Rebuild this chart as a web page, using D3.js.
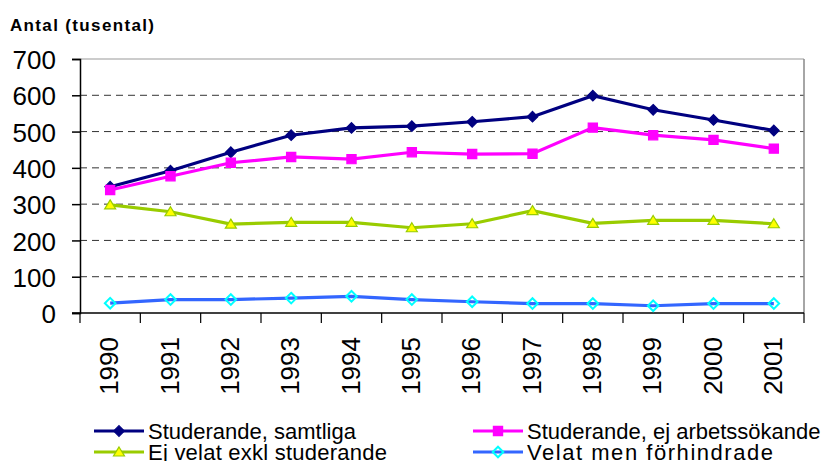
<!DOCTYPE html>
<html>
<head>
  <meta charset="UTF-8">
  <style>
    body { margin: 0; background: #fff; }
    svg { display: block; font-family: "Liberation Sans", Arial, sans-serif; }
  </style>
</head>
<body>
  <svg id="chart" width="829" height="461"></svg>
  <script src="https://d3js.org/d3.v7.min.js"></script>
  <script>
    // data (thousands)
    var years = ["1990","1991","1992","1993","1994","1995","1996","1997","1998","1999","2000","2001"];
    var studSamtliga = [348, 392, 443, 490, 510, 515, 527, 541, 599, 560, 532, 503];
    var studEjArb    = [339, 377, 414, 430, 424, 443, 438, 439, 511, 490, 477, 453];
    var ejVelat      = [298, 279, 245, 250, 250, 235, 246, 282, 247, 255, 255, 246];
    var velatMen     = [27, 37, 37, 41, 46, 37, 31, 26, 26, 20, 26, 26];
    var yTicks = [0, 100, 200, 300, 400, 500, 600, 700];

    var series = [
      {name: "Studerande, samtliga", values: studSamtliga, color: "#000080", marker: "diamond", fill: "#000080", mstroke: "#000080"},
      {name: "Studerande, ej arbetssökande", values: studEjArb, color: "#ff00ff", marker: "square", fill: "#ff00ff", mstroke: "#ff00ff"},
      {name: "Ej velat exkl studerande", values: ejVelat, color: "#99cc00", marker: "triangle", fill: "#ffff00", mstroke: "#99cc00"},
      {name: "Velat men förhindrade", values: velatMen, color: "#3366ff", marker: "diamond", fill: "none", mstroke: "#00ffff"}
    ];

    var svg = d3.select("#chart");
    var plotL = 80, plotR = 804, plotT = 59, plotB = 313;

    var x = d3.scalePoint().domain(years).range([plotL, plotR]).padding(0.5);
    var xb = d3.scaleBand().domain(years).range([plotL, plotR]);
    var y = d3.scaleLinear().domain([0, 700]).range([plotB, plotT]);

    // title
    svg.append("text")
      .attr("x", 10).attr("y", 31)
      .attr("font-size", 17).attr("font-weight", "bold")
      .attr("textLength", 144).attr("lengthAdjust", "spacing")
      .text("Antal (tusental)");

    // grid lines
    svg.append("g").selectAll("line")
      .data(yTicks.filter(function(d){ return d > 0 && d < 700; }))
      .enter().append("line")
      .attr("x1", plotL).attr("x2", plotR)
      .attr("y1", function(d){ return y(d); }).attr("y2", function(d){ return y(d); })
      .attr("stroke", "#333").attr("stroke-width", 1)
      .attr("stroke-dasharray", "7,5");

    // plot border top/right
    svg.append("line").attr("x1", plotL).attr("x2", plotR).attr("y1", plotT).attr("y2", plotT)
      .attr("stroke", "#999").attr("stroke-width", 1);
    svg.append("line").attr("x1", plotR).attr("x2", plotR).attr("y1", plotT).attr("y2", plotB)
      .attr("stroke", "#888").attr("stroke-width", 1.5);

    // y axis
    var yAxis = svg.append("g")
      .attr("transform", "translate(" + plotL + ",0)")
      .call(d3.axisLeft(y).tickValues(yTicks).tickSize(8));
    yAxis.select(".domain").attr("stroke", "#000").attr("stroke-width", 1.5);
    yAxis.selectAll(".tick line").attr("stroke", "#000").attr("stroke-width", 1.5);
    yAxis.selectAll("text")
      .attr("font-size", 26).attr("font-family", "Liberation Sans, Arial, sans-serif")
      .attr("fill", "#000").attr("x", -24).attr("dy", "0.37em");

    // x axis with ticks on band boundaries
    var xAxis = svg.append("g")
      .attr("transform", "translate(0," + plotB + ")");
    xAxis.append("line").attr("x1", plotL - 8).attr("x2", plotR).attr("stroke", "#000").attr("stroke-width", 1.5);
    var bounds = years.map(function(d){ return xb(d); }).concat([plotR]);
    xAxis.selectAll("line.tk").data(bounds).enter().append("line")
      .attr("class", "tk")
      .attr("x1", function(d){ return d; }).attr("x2", function(d){ return d; })
      .attr("y1", 0).attr("y2", 10)
      .attr("stroke", "#000").attr("stroke-width", 1.2);
    xAxis.selectAll("text").data(years).enter().append("text")
      .attr("transform", function(d){ return "translate(" + x(d) + ",24) rotate(-90)"; })
      .attr("text-anchor", "end").attr("dy", "0.32em")
      .attr("font-size", 26)
      .text(function(d){ return d; });

    var line = d3.line()
      .x(function(d, i){ return x(years[i]); })
      .y(function(d){ return y(d); });

    function markerPath(type, s) {
      if (type === "diamond") return "M0," + (-s) + "L" + s + ",0L0," + s + "L" + (-s) + ",0Z";
      if (type === "square") return "M" + (-s) + "," + (-s) + "H" + s + "V" + s + "H" + (-s) + "Z";
      return "M0," + (-s) + "L" + (s + 0.5) + "," + (s * 0.8) + "L" + (-s - 0.5) + "," + (s * 0.8) + "Z";
    }
    function markerSize(type) {
      return type === "square" ? 4.6 : (type === "triangle" ? 5 : 5.3);
    }
    function drawMarker(g, s, cx, cy) {
      g.append("path")
        .attr("transform", "translate(" + cx + "," + cy + ")")
        .attr("d", markerPath(s.marker, markerSize(s.marker)))
        .attr("fill", s.fill)
        .attr("stroke", s.mstroke)
        .attr("stroke-width", s.fill === "none" ? 2 : 1.2);
    }

    var plot = svg.append("g");
    series.forEach(function(s) {
      var g = plot.append("g");
      g.append("path")
        .attr("d", line(s.values))
        .attr("fill", "none")
        .attr("stroke", s.color)
        .attr("stroke-width", 3.2);
      s.values.forEach(function(v, i) {
        drawMarker(g, s, x(years[i]), y(v));
      });
    });

    // legend
    var legPos = [[94, 431], [473, 431], [94, 452], [473, 452]];
    var legWidth = [null, null, 239, 246];
    series.forEach(function(s, i) {
      var p = legPos[i];
      var g = svg.append("g").attr("transform", "translate(" + p[0] + "," + p[1] + ")");
      g.append("line").attr("x1", 0).attr("x2", 50)
        .attr("stroke", s.color).attr("stroke-width", 3.2);
      drawMarker(g, s, 25, 0);
      var t = g.append("text").attr("x", 54).attr("y", 7.5)
        .attr("font-size", 22)
        .text(s.name);
      if (legWidth[i]) t.attr("textLength", legWidth[i]).attr("lengthAdjust", "spacing");
    });
  </script>
</body>
</html>
